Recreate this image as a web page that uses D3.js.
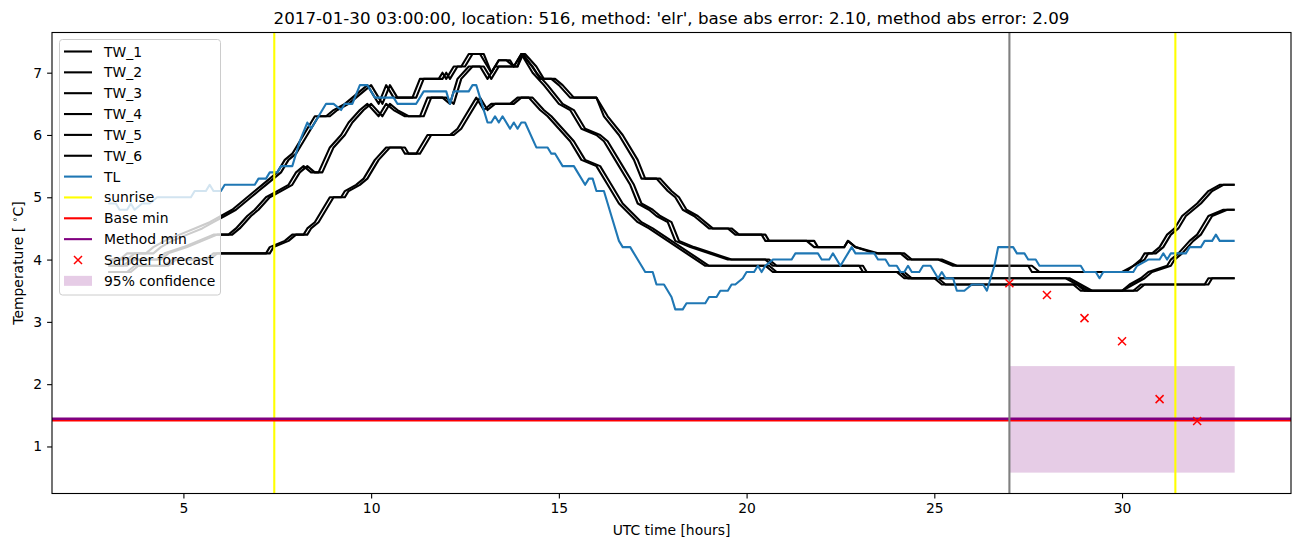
<!DOCTYPE html>
<html>
<head>
<meta charset="utf-8">
<script src="https://cdn.jsdelivr.net/npm/d3@7"></script>
<style>
  body { margin: 0; background: #fff; }
  svg { font-family: 'DejaVu Sans', sans-serif; }
</style>
</head>
<body>
<div id="chart"></div>
<script>
// hours, temperature
var TW_1 = [[3.0,4.0],[3.3,4.0],[3.5,4.1],[4.0,4.1],[4.2,4.2],[4.5,4.3],[4.9,4.4],[5.3,4.5],[5.7,4.6],[6.0,4.7],[6.3,4.8],[6.5,4.9],[6.7,5.0],[6.9,5.1],[7.1,5.2],[7.3,5.3],[7.5,5.4],[7.7,5.6],[7.9,5.7],[8.1,5.9],[8.3,6.1],[8.5,6.3],[8.8,6.3],[9.0,6.4],[9.3,6.5],[9.5,6.6],[9.7,6.7],[9.9,6.8],[10.1,6.6],[10.2,6.5],[10.4,6.8],[10.6,6.6],[11.1,6.6],[11.3,6.9],[11.8,6.9],[11.9,7.0],[12.0,6.9],[12.2,7.1],[12.4,7.1],[12.6,7.3],[12.9,7.3],[13.1,7.1],[13.2,7.0],[13.4,7.2],[13.6,7.2],[13.8,7.1],[14.0,7.3],[14.3,7.1],[14.5,6.9],[14.8,6.9],[15.0,6.8],[15.3,6.6],[16.0,6.6],[16.2,6.3],[16.6,6.0],[17.0,5.6],[17.2,5.3],[17.6,5.3],[17.9,5.1],[18.1,5.0],[18.3,4.8],[18.6,4.7],[19.0,4.5],[19.5,4.5],[19.7,4.4],[20.4,4.4],[20.5,4.3],[21.6,4.3],[21.8,4.2],[22.6,4.2],[22.7,4.3],[22.9,4.2],[23.4,4.1],[24.1,4.1],[24.3,4.0],[25.1,4.0],[25.5,3.9],[27.5,3.9],[27.6,3.8],[30.0,3.8],[30.3,3.9],[30.5,4.0],[30.6,4.1],[30.8,4.1],[31.0,4.2],[31.2,4.4],[31.4,4.5],[31.6,4.7],[31.8,4.8],[32.0,4.9],[32.3,5.1],[32.6,5.2],[33.0,5.2]];
var TW_2 = [[3.0,4.0],[3.5,4.0],[3.7,4.1],[4.2,4.1],[4.4,4.2],[4.7,4.3],[5.1,4.4],[5.5,4.5],[5.8,4.6],[6.1,4.7],[6.4,4.8],[6.6,4.9],[6.8,5.0],[7.0,5.1],[7.2,5.2],[7.4,5.3],[7.6,5.4],[7.8,5.6],[8.0,5.7],[8.2,5.9],[8.4,6.1],[8.6,6.3],[8.9,6.3],[9.1,6.4],[9.4,6.5],[9.6,6.6],[9.8,6.7],[10.0,6.8],[10.2,6.6],[10.3,6.5],[10.5,6.8],[10.7,6.6],[11.2,6.6],[11.4,6.9],[11.9,6.9],[12.0,7.0],[12.1,6.9],[12.3,7.1],[12.5,7.1],[12.7,7.3],[13.0,7.3],[13.2,7.0],[13.4,7.2],[13.7,7.2],[13.8,7.1],[14.0,7.3],[14.1,7.3],[14.4,7.1],[14.6,6.9],[14.9,6.9],[15.1,6.8],[15.4,6.6],[16.0,6.6],[16.3,6.3],[16.7,6.0],[17.1,5.6],[17.3,5.3],[17.7,5.3],[18.0,5.1],[18.2,5.0],[18.4,4.8],[18.7,4.7],[19.1,4.5],[19.6,4.5],[19.8,4.4],[20.5,4.4],[20.6,4.3],[21.8,4.3],[21.9,4.2],[22.6,4.2],[22.7,4.3],[22.9,4.2],[23.5,4.1],[24.2,4.1],[24.4,4.0],[25.2,4.0],[25.6,3.9],[27.6,3.9],[27.8,3.8],[30.1,3.8],[30.3,3.9],[30.6,4.0],[30.7,4.1],[30.9,4.1],[31.1,4.2],[31.3,4.4],[31.5,4.5],[31.7,4.7],[31.9,4.8],[32.1,4.9],[32.4,5.1],[32.7,5.2],[33.0,5.2]];
var TW_3 = [[3.0,3.9],[3.4,3.9],[3.6,4.0],[4.3,4.0],[4.5,4.1],[5.0,4.2],[5.4,4.3],[5.8,4.4],[6.2,4.4],[6.4,4.5],[6.7,4.7],[6.9,4.8],[7.2,5.0],[7.5,5.1],[7.8,5.2],[8.0,5.4],[8.2,5.5],[8.4,5.4],[8.6,5.4],[8.9,5.8],[9.2,6.0],[9.4,6.2],[9.7,6.4],[9.9,6.5],[10.2,6.3],[10.4,6.5],[10.6,6.4],[10.9,6.3],[11.3,6.3],[11.5,6.6],[11.9,6.6],[12.1,6.5],[12.3,6.9],[12.6,7.1],[12.9,7.1],[13.1,6.9],[13.3,7.1],[13.9,7.1],[14.0,7.3],[14.3,7.0],[14.6,6.8],[15.0,6.5],[15.3,6.4],[15.6,6.1],[16.0,6.0],[16.2,5.9],[16.6,5.5],[16.9,5.2],[17.1,4.9],[17.4,4.8],[17.6,4.7],[17.9,4.6],[18.1,4.3],[18.5,4.2],[19.0,4.1],[19.5,4.0],[20.5,4.0],[20.7,3.9],[23.0,3.9],[23.1,3.8],[24.1,3.8],[24.3,3.7],[28.5,3.7],[28.8,3.6],[29.1,3.5],[30.0,3.5],[30.2,3.6],[30.5,3.7],[30.7,3.8],[31.2,3.9],[31.3,4.0],[31.5,4.1],[31.8,4.3],[32.0,4.4],[32.1,4.5],[32.3,4.7],[32.7,4.8],[33.0,4.8]];
var TW_4 = [[3.0,3.9],[3.5,3.9],[3.7,4.0],[4.4,4.0],[4.6,4.1],[5.1,4.2],[5.5,4.3],[5.9,4.4],[6.3,4.4],[6.5,4.5],[6.8,4.7],[7.0,4.8],[7.3,5.0],[7.6,5.1],[7.9,5.2],[8.1,5.4],[8.3,5.5],[8.5,5.4],[8.7,5.4],[9.0,5.8],[9.3,6.0],[9.5,6.2],[9.8,6.4],[10.0,6.5],[10.3,6.3],[10.5,6.5],[10.7,6.4],[11.0,6.3],[11.4,6.3],[11.6,6.6],[12.0,6.6],[12.2,6.5],[12.4,6.9],[12.7,7.1],[13.0,7.1],[13.2,6.9],[13.4,7.1],[13.9,7.1],[14.05,7.3],[14.4,7.0],[14.7,6.8],[15.1,6.5],[15.4,6.4],[15.7,6.1],[16.1,6.0],[16.3,5.9],[16.7,5.5],[17.0,5.2],[17.2,4.9],[17.5,4.8],[17.7,4.7],[18.0,4.6],[18.2,4.3],[18.6,4.2],[19.1,4.1],[19.6,4.0],[20.6,4.0],[20.8,3.9],[23.1,3.9],[23.2,3.8],[24.2,3.8],[24.4,3.7],[28.6,3.7],[28.9,3.6],[29.2,3.5],[30.0,3.5],[30.3,3.6],[30.6,3.7],[30.8,3.8],[31.3,3.9],[31.4,4.0],[31.6,4.1],[31.9,4.3],[32.1,4.4],[32.2,4.5],[32.4,4.7],[32.8,4.8],[33.0,4.8]];
var TW_5 = [[3.0,3.8],[3.5,3.8],[3.7,3.9],[4.5,3.9],[4.7,4.0],[5.6,4.0],[5.8,4.1],[7.2,4.1],[7.3,4.2],[7.7,4.3],[7.9,4.4],[8.2,4.4],[8.3,4.5],[8.5,4.6],[8.6,4.7],[8.9,5.0],[9.2,5.0],[9.3,5.1],[9.6,5.2],[9.8,5.3],[10.0,5.5],[10.1,5.6],[10.4,5.8],[10.8,5.8],[10.9,5.7],[11.2,5.7],[11.5,6.0],[12.1,6.0],[12.3,6.1],[12.5,6.3],[12.8,6.6],[13.0,6.4],[13.2,6.5],[13.7,6.5],[13.9,6.6],[14.2,6.6],[14.5,6.4],[14.7,6.3],[15.0,6.1],[15.3,5.9],[15.6,5.6],[16.0,5.5],[16.3,5.2],[16.6,4.9],[17.1,4.6],[17.4,4.5],[17.9,4.3],[18.4,4.1],[18.9,3.9],[20.5,3.9],[20.7,3.8],[24.0,3.8],[24.2,3.7],[25.0,3.7],[25.2,3.6],[28.7,3.6],[28.9,3.5],[30.3,3.5],[30.5,3.6],[32.2,3.6],[32.3,3.7],[33.0,3.7]];
var TW_6 = [[3.0,3.8],[3.6,3.8],[3.8,3.9],[4.6,3.9],[4.8,4.0],[5.7,4.0],[5.9,4.1],[7.3,4.1],[7.4,4.2],[7.8,4.3],[8.0,4.4],[8.3,4.4],[8.4,4.5],[8.6,4.6],[8.7,4.7],[9.0,5.0],[9.3,5.0],[9.4,5.1],[9.7,5.2],[9.9,5.3],[10.1,5.5],[10.2,5.6],[10.5,5.8],[10.9,5.8],[11.0,5.7],[11.3,5.7],[11.6,6.0],[12.2,6.0],[12.4,6.1],[12.6,6.3],[12.9,6.6],[13.1,6.4],[13.3,6.5],[13.8,6.5],[14.0,6.6],[14.3,6.6],[14.6,6.4],[14.8,6.3],[15.1,6.1],[15.4,5.9],[15.7,5.6],[16.1,5.5],[16.4,5.2],[16.7,4.9],[17.2,4.6],[17.5,4.5],[18.0,4.3],[18.5,4.1],[19.0,3.9],[20.6,3.9],[20.8,3.8],[24.1,3.8],[24.3,3.7],[25.1,3.7],[25.3,3.6],[28.8,3.6],[29.0,3.5],[30.4,3.5],[30.6,3.6],[32.3,3.6],[32.4,3.7],[33.0,3.7]];
var TL = [[3.0,4.9],[3.2,4.9],[3.3,4.8],[3.5,4.8],[3.6,4.9],[3.7,4.8],[3.9,4.9],[4.1,4.9],[4.3,5.0],[5.2,5.0],[5.3,5.1],[5.6,5.1],[5.7,5.2],[5.8,5.1],[6.0,5.1],[6.1,5.2],[6.9,5.2],[7.0,5.3],[7.2,5.3],[7.3,5.4],[7.5,5.4],[7.6,5.5],[7.9,5.5],[8.1,5.9],[8.3,6.2],[8.4,6.1],[8.6,6.3],[8.8,6.5],[9.0,6.5],[9.2,6.4],[9.3,6.5],[9.5,6.5],[9.7,6.8],[9.9,6.8],[10.1,6.6],[10.6,6.6],[10.7,6.5],[11.2,6.5],[11.4,6.7],[12.0,6.7],[12.1,6.5],[12.2,6.7],[12.6,6.7],[12.7,6.8],[12.8,6.8],[13.1,6.2],[13.2,6.2],[13.3,6.3],[13.4,6.2],[13.5,6.3],[13.7,6.1],[13.8,6.2],[13.9,6.1],[14.0,6.2],[14.1,6.2],[14.4,5.8],[14.7,5.8],[14.8,5.7],[14.9,5.7],[15.1,5.5],[15.4,5.5],[15.5,5.4],[15.7,5.2],[15.8,5.3],[15.9,5.3],[16.0,5.1],[16.2,5.1],[16.4,4.7],[16.6,4.3],[16.7,4.2],[16.9,4.2],[17.2,3.9],[17.3,3.8],[17.5,3.8],[17.6,3.6],[17.8,3.6],[18.0,3.4],[18.1,3.2],[18.3,3.2],[18.4,3.3],[18.9,3.3],[19.0,3.4],[19.2,3.4],[19.3,3.5],[19.5,3.5],[19.6,3.6],[19.7,3.6],[19.9,3.7],[20.0,3.8],[20.2,3.8],[20.3,3.9],[20.4,3.8],[20.5,3.9],[20.7,4.0],[21.2,4.0],[21.3,4.1],[21.9,4.1],[22.0,4.0],[22.2,4.0],[22.3,4.1],[22.5,3.9],[22.8,4.2],[22.9,4.1],[23.4,4.1],[23.5,4.0],[23.7,4.0],[23.8,3.9],[24.0,3.9],[24.1,3.8],[24.2,3.8],[24.3,3.9],[24.4,3.8],[24.6,3.8],[24.7,3.9],[24.9,3.9],[25.0,3.8],[25.1,3.7],[25.2,3.8],[25.3,3.7],[25.5,3.7],[25.6,3.5],[25.8,3.5],[26.0,3.6],[26.3,3.6],[26.4,3.5],[26.5,3.7],[26.6,3.9],[26.7,4.2],[27.1,4.2],[27.2,4.1],[27.4,4.1],[27.5,4.0],[27.7,4.0],[27.8,3.9],[28.9,3.9],[29.0,3.8],[29.3,3.8],[29.4,3.7],[29.5,3.8],[30.3,3.8],[30.4,3.9],[30.7,4.0],[31.0,4.0],[31.1,4.1],[31.2,4.0],[31.3,4.1],[31.7,4.1],[31.8,4.2],[32.1,4.2],[32.2,4.3],[32.4,4.3],[32.5,4.4],[32.6,4.3],[33.0,4.3]];

var sunriseHours = [7.42, 31.42];
var forecastTime = 27.0;
var baseMin = 1.42;
var methodMin = 1.445;
var sanderHours = [27, 28, 29, 30, 31, 32];
var sanderValues = [3.62, 3.43, 3.06, 2.69, 1.76, 1.41];
var confidence = {x0: 27.0, x1: 33.0, lo: 0.58, hi: 2.29};

var xTicks = [5, 10, 15, 20, 25, 30];
var yTicks = [1, 2, 3, 4, 5, 6, 7];
var title = "2017-01-30 03:00:00, location: 516, method: 'elr', base abs error: 2.10, method abs error: 2.09";

(function() {
  var W = 1302, H = 547;
  var mLeft = 52, mRight = 1291, mTop = 32.5, mBottom = 493.5;
  var lw = 2.1;

  var svg = d3.select('#chart').append('svg')
              .attr('width', W)
              .attr('height', H);

  var x = d3.scaleLinear().domain([1.5, 34.5]).range([mLeft, mRight]);
  var y = d3.scaleLinear().domain([0.245, 7.645]).range([mBottom, mTop]);

  var plot = svg.append('g');

  // confidence band
  plot.append('rect')
      .attr('x', x(confidence.x0))
      .attr('y', y(confidence.hi))
      .attr('width', x(confidence.x1) - x(confidence.x0))
      .attr('height', y(confidence.lo) - y(confidence.hi))
      .attr('fill', 'purple')
      .attr('fill-opacity', 0.2);

  var lineFunc = d3.line()
                   .x(function(d) { return x(d[0]); })
                   .y(function(d) { return y(d[1]); });

  var series = [
    {name: 'TW_1', values: TW_1, color: 'black'},
    {name: 'TW_2', values: TW_2, color: 'black'},
    {name: 'TW_3', values: TW_3, color: 'black'},
    {name: 'TW_4', values: TW_4, color: 'black'},
    {name: 'TW_5', values: TW_5, color: 'black'},
    {name: 'TW_6', values: TW_6, color: 'black'},
    {name: 'TL', values: TL, color: '#1f77b4'}
  ];

  plot.selectAll('path.series')
      .data(series)
      .enter()
      .append('path')
      .attr('class', 'series')
      .attr('d', function(d) { return lineFunc(d.values); })
      .attr('fill', 'none')
      .attr('stroke', function(d) { return d.color; })
      .attr('stroke-width', lw)
      .attr('stroke-linejoin', 'round');

  // sunrise lines
  plot.selectAll('line.sunrise')
      .data(sunriseHours)
      .enter()
      .append('line')
      .attr('x1', function(d) { return x(d); })
      .attr('x2', function(d) { return x(d); })
      .attr('y1', mTop)
      .attr('y2', mBottom)
      .attr('stroke', 'yellow')
      .attr('stroke-width', lw);

  // base / method min
  plot.append('line')
      .attr('x1', mLeft).attr('x2', mRight)
      .attr('y1', y(baseMin)).attr('y2', y(baseMin))
      .attr('stroke', 'red').attr('stroke-width', 2.6);
  plot.append('line')
      .attr('x1', mLeft).attr('x2', mRight)
      .attr('y1', y(methodMin)).attr('y2', y(methodMin))
      .attr('stroke', 'purple').attr('stroke-width', 2.6);

  // forecast time
  plot.append('line')
      .attr('x1', x(forecastTime)).attr('x2', x(forecastTime))
      .attr('y1', mTop).attr('y2', mBottom)
      .attr('stroke', 'gray').attr('stroke-width', lw);

  // sander forecast markers
  function xMark(g, cx, cy, r) {
    g.append('path')
     .attr('d', 'M' + (cx - r) + ',' + (cy - r) + 'L' + (cx + r) + ',' + (cy + r) +
                'M' + (cx - r) + ',' + (cy + r) + 'L' + (cx + r) + ',' + (cy - r))
     .attr('stroke', 'red')
     .attr('stroke-width', 1.5)
     .attr('fill', 'none');
  }
  sanderHours.forEach(function(h, i) {
    xMark(plot, x(h), y(sanderValues[i]), 4);
  });

  // axes
  var xAxis = d3.axisBottom(x).tickValues(xTicks).tickSizeOuter(0).tickSize(4.9).tickPadding(4.9);
  var yAxis = d3.axisLeft(y).tickValues(yTicks).tickSizeOuter(0).tickSize(4.9).tickPadding(4.9);

  var gx = svg.append('g').attr('transform', 'translate(0,' + mBottom + ')').call(xAxis);
  var gy = svg.append('g').attr('transform', 'translate(' + mLeft + ',0)').call(yAxis);
  [gx, gy].forEach(function(g) {
    g.select('.domain').remove();
    g.selectAll('text')
     .attr('font-family', 'DejaVu Sans, sans-serif')
     .attr('font-size', '13.9px')
     .attr('fill', 'black');
    g.selectAll('line').attr('stroke', 'black').attr('stroke-width', 1.1);
  });

  // frame
  svg.append('rect')
     .attr('x', mLeft).attr('y', mTop)
     .attr('width', mRight - mLeft).attr('height', mBottom - mTop)
     .attr('fill', 'none').attr('stroke', 'black').attr('stroke-width', 1.1);

  // titles
  svg.append('text')
     .attr('x', (mLeft + mRight) / 2).attr('y', 24)
     .attr('text-anchor', 'middle')
     .attr('font-size', '16.7px')
     .text(title);

  svg.append('text')
     .attr('x', (mLeft + mRight) / 2).attr('y', 535)
     .attr('text-anchor', 'middle')
     .attr('font-size', '13.9px')
     .text('UTC time [hours]');

  var ylab = svg.append('text')
     .attr('transform', 'translate(23,' + ((mTop + mBottom) / 2) + ') rotate(-90)')
     .attr('text-anchor', 'middle')
     .attr('font-size', '13.9px');
  ylab.append('tspan').text('Temperature [ ');
  ylab.append('tspan').attr('font-size', '9.5px').attr('dy', -5).text('\u2218');
  ylab.append('tspan').attr('dy', 5).text('C]');

  // legend
  var legendItems = [
    {label: 'TW_1', type: 'line', color: 'black'},
    {label: 'TW_2', type: 'line', color: 'black'},
    {label: 'TW_3', type: 'line', color: 'black'},
    {label: 'TW_4', type: 'line', color: 'black'},
    {label: 'TW_5', type: 'line', color: 'black'},
    {label: 'TW_6', type: 'line', color: 'black'},
    {label: 'TL', type: 'line', color: '#1f77b4'},
    {label: 'sunrise', type: 'line', color: 'yellow'},
    {label: 'Base min', type: 'line', color: 'red'},
    {label: 'Method min', type: 'line', color: 'purple'},
    {label: 'Sander forecast', type: 'marker', color: 'red'},
    {label: '95% confidence', type: 'patch', color: 'purple'}
  ];

  var legend = svg.append('g');
  legend.append('rect')
        .attr('x', 59.5).attr('y', 39.5)
        .attr('width', 161).attr('height', 255.5)
        .attr('rx', 3).attr('ry', 3)
        .attr('fill', 'white').attr('fill-opacity', 0.8)
        .attr('stroke', '#cccccc').attr('stroke-width', 1);

  legendItems.forEach(function(d, i) {
    var cy = 51.5 + i * 20.85;
    if (d.type === 'line') {
      legend.append('line')
            .attr('x1', 64).attr('x2', 92)
            .attr('y1', cy).attr('y2', cy)
            .attr('stroke', d.color).attr('stroke-width', lw);
    } else if (d.type === 'marker') {
      xMark(legend, 78, cy, 4);
    } else {
      legend.append('rect')
            .attr('x', 64).attr('y', cy - 5)
            .attr('width', 28).attr('height', 10)
            .attr('fill', d.color).attr('fill-opacity', 0.2);
    }
    legend.append('text')
          .attr('x', 104).attr('y', cy + 5)
          .attr('font-size', '13.9px')
          .text(d.label);
  });
})();
</script>
</body>
</html>
